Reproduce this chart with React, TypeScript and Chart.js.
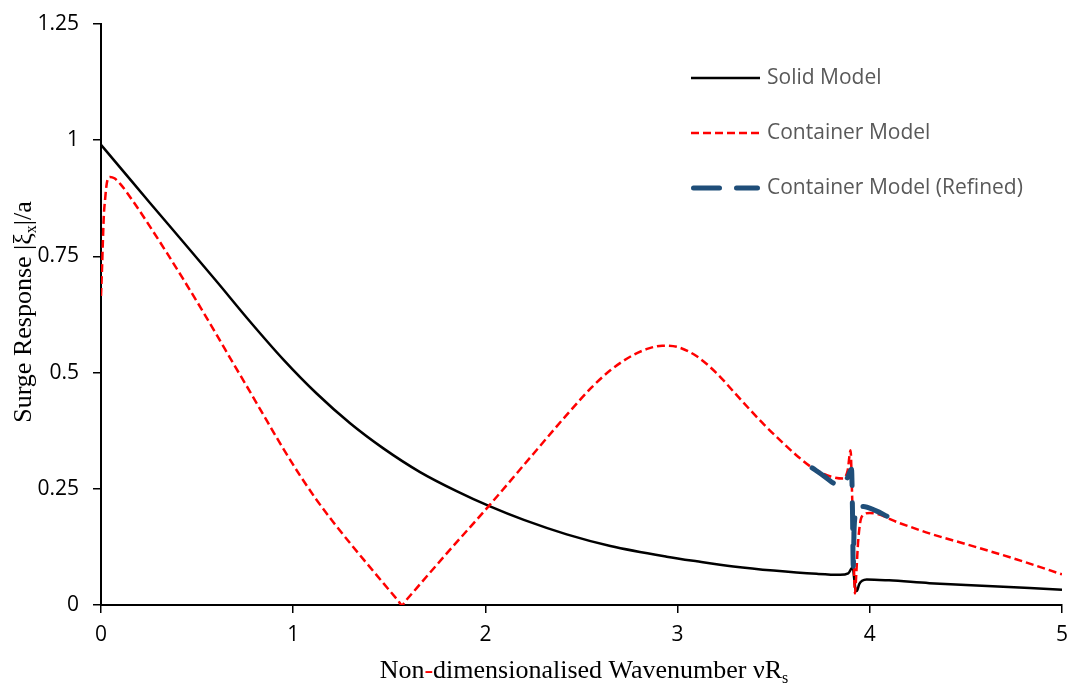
import React, { useEffect, useRef } from "react";
import { Chart, registerables } from "chart.js";

Chart.register(...registerables);

// Axis ticks
const xTicks = [0, 1, 2, 3, 4, 5];
const yTicks = [0, 0.25, 0.5, 0.75, 1, 1.25];

// Solid Model
const solidX = [0, 0.1, 0.255, 0.428, 0.602, 0.775, 0.949, 1.122, 1.296, 1.469, 1.66, 1.85, 2.024, 2.2, 2.423, 2.65, 2.943, 3.1, 3.29, 3.5, 3.724, 3.845, 3.888, 3.905, 3.912, 3.918, 3.925, 3.932, 3.945, 3.96, 3.984, 4.1, 4.31, 4.5, 4.75, 5.0];
const solidY = [0.99, 0.941, 0.865, 0.781, 0.696, 0.61, 0.528, 0.455, 0.391, 0.337, 0.286, 0.245, 0.212, 0.183, 0.152, 0.127, 0.104, 0.094, 0.083, 0.074, 0.067, 0.065, 0.068, 0.079, 0.08, 0.06, 0.035, 0.03, 0.045, 0.052, 0.055, 0.053, 0.047, 0.043, 0.038, 0.033];

// Container Model
const containerX = [0, 0.005, 0.01, 0.015, 0.021, 0.03, 0.047, 0.07, 0.1, 0.168, 0.255, 0.342, 0.428, 0.515, 0.602, 0.688, 0.775, 0.862, 0.949, 1.035, 1.122, 1.209, 1.296, 1.382, 1.469, 1.545, 1.566, 1.585, 1.7, 1.816, 2.024, 2.249, 2.423, 2.55, 2.65, 2.77, 2.85, 2.92, 3.0, 3.1, 3.2, 3.3, 3.377, 3.45, 3.55, 3.63, 3.706, 3.8, 3.862, 3.885, 3.9, 3.907, 3.914, 3.923, 3.93, 3.94, 3.958, 4.0, 4.157, 4.31, 4.5, 4.75, 5.0];
const containerY = [0.665, 0.72, 0.785, 0.84, 0.871, 0.907, 0.921, 0.918, 0.906, 0.868, 0.814, 0.758, 0.701, 0.642, 0.581, 0.52, 0.459, 0.397, 0.336, 0.279, 0.226, 0.178, 0.133, 0.09, 0.047, 0.01, 0.0, 0.009, 0.064, 0.119, 0.216, 0.325, 0.409, 0.467, 0.505, 0.538, 0.552, 0.558, 0.555, 0.535, 0.5, 0.455, 0.42, 0.388, 0.348, 0.318, 0.294, 0.276, 0.272, 0.29, 0.333, 0.25, 0.14, 0.025, 0.07, 0.14, 0.19, 0.198, 0.176, 0.154, 0.131, 0.1, 0.066];

// Container Model (Refined)
const refinedX = [3.7, 3.76, 3.83, 3.86, 3.885, 3.9, 3.905, 3.91, 3.914, 3.918, 3.925, 3.932, 3.95, 3.966, 4.03, 4.095];
const refinedY = [0.295, 0.278, 0.26, 0.262, 0.275, 0.29, 0.292, 0.2, 0.083, 0.16, 0.195, 0.208, 0.212, 0.212, 0.203, 0.19];

const seriesLabels = ["Solid Model", "Container Model", "Container Model (Refined)"];

const toPoints = (xs: number[], ys: number[]) => xs.map((x, i) => ({ x, y: ys[i] }));

type Piece = { t: string; sub?: boolean; color?: string };

function drawPieces(ctx: CanvasRenderingContext2D, pieces: Piece[], cx: number, baseline: number, size: number) {
  const font = (s: number) => `${s}px "Liberation Serif", "Times New Roman", serif`;
  const subSize = Math.round(size * 0.62);
  let total = 0;
  const widths = pieces.map((p) => {
    ctx.font = font(p.sub ? subSize : size);
    const w = ctx.measureText(p.t).width;
    total += w;
    return w;
  });
  let x = cx - total / 2;
  ctx.textBaseline = "alphabetic";
  ctx.textAlign = "left";
  pieces.forEach((p, i) => {
    ctx.font = font(p.sub ? subSize : size);
    ctx.fillStyle = p.color || "#000";
    ctx.fillText(p.t, x, baseline + (p.sub ? size * 0.18 : 0));
    x += widths[i];
  });
}

const decorPlugin = {
  id: "decor",
  afterDraw(chart: any) {
    const ctx: CanvasRenderingContext2D = chart.ctx;
    ctx.save();

    // Legend inside the plot area
    const x0 = 691;
    const x1 = 760;
    const textX = 767;
    const top = 78;
    const row = 55;
    chart.data.datasets.forEach((ds: any, i: number) => {
      const y = top + i * row;
      const cap = ds.borderCapStyle === "round" ? ds.borderWidth / 2 : 0;
      ctx.beginPath();
      ctx.setLineDash(ds.borderDash || []);
      ctx.lineDashOffset = 0;
      ctx.lineCap = ds.borderCapStyle || "butt";
      ctx.lineWidth = ds.borderWidth;
      ctx.strokeStyle = ds.borderColor;
      ctx.moveTo(x0 + cap, y);
      ctx.lineTo(x1 - cap, y);
      ctx.stroke();
      ctx.setLineDash([]);
      ctx.fillStyle = "#595959";
      ctx.font = '21px "Open Sans"';
      ctx.textBaseline = "middle";
      ctx.textAlign = "left";
      ctx.fillText(ds.label, textX, y);
    });

    // X axis title
    drawPieces(
      ctx,
      [
        { t: "Non" },
        { t: "-", color: "#FF0000" },
        { t: "dimensionalised Wavenumber \u03BDR" },
        { t: "s", sub: true },
      ],
      584,
      678,
      26
    );

    // Y axis title
    ctx.translate(31, 312);
    ctx.rotate(-Math.PI / 2);
    drawPieces(ctx, [{ t: "Surge Response |\u03BE" }, { t: "x", sub: true }, { t: "|/a" }], 0, 0, 26);

    ctx.restore();
  },
};

export default function App() {
  const canvasRef = useRef<HTMLCanvasElement | null>(null);

  useEffect(() => {
    const canvas = canvasRef.current;
    if (!canvas) return;
    const chart = new Chart(canvas, {
      type: "line",
      data: {
        datasets: [
          {
            label: seriesLabels[0],
            data: toPoints(solidX, solidY),
            borderColor: "#000000",
            borderWidth: 2.5,
            pointRadius: 0,
            cubicInterpolationMode: "monotone",
            order: 2,
          },
          {
            label: seriesLabels[1],
            data: toPoints(containerX, containerY),
            borderColor: "#FF0000",
            borderWidth: 2.5,
            borderDash: [8, 4],
            pointRadius: 0,
            cubicInterpolationMode: "monotone",
            order: 1,
          },
          {
            label: seriesLabels[2],
            data: toPoints(refinedX, refinedY),
            borderColor: "#1F4E79",
            borderWidth: 5,
            borderDash: [26, 17],
            borderCapStyle: "round",
            pointRadius: 0,
            cubicInterpolationMode: "monotone",
            order: 0,
          },
        ] as any,
      },
      options: {
        animation: false,
        responsive: false,
        maintainAspectRatio: false,
        layout: { padding: { left: 0, right: 7, top: 24, bottom: 0 } },
        plugins: { legend: { display: false }, tooltip: { enabled: false } },
        scales: {
          x: {
            type: "linear",
            min: 0,
            max: 5,
            afterBuildTicks: (s: any) => {
              s.ticks = xTicks.map((v) => ({ value: v }));
            },
            afterFit: (s: any) => {
              s.height = 79;
              s.paddingLeft = 0;
              s.paddingRight = 0;
            },
            grid: { drawOnChartArea: false, drawTicks: true, tickLength: 8, color: "#000", lineWidth: 1.5 },
            border: { display: true, color: "#000", width: 2 },
            ticks: {
              padding: 9,
              color: "#000",
              font: { family: '"Open Sans"', size: 21 },
              maxRotation: 0,
              callback: (v: any) => String(Math.round(Number(v) * 100) / 100),
            },
          },
          y: {
            type: "linear",
            min: 0,
            max: 1.25,
            afterBuildTicks: (s: any) => {
              s.ticks = yTicks.map((v) => ({ value: v }));
            },
            afterFit: (s: any) => {
              s.width = 101;
              s.paddingTop = 0;
              s.paddingBottom = 0;
            },
            grid: { drawOnChartArea: false, drawTicks: true, tickLength: 8, color: "#000", lineWidth: 1.5 },
            border: { display: true, color: "#000", width: 2 },
            ticks: {
              padding: 14,
              color: "#000",
              font: { family: '"Open Sans"', size: 21 },
              callback: (v: any) => String(Math.round(Number(v) * 100) / 100),
            },
          },
        },
      } as any,
      plugins: [decorPlugin],
    });
    return () => chart.destroy();
  }, []);

  return (
    <div style={{ position: "fixed", left: 0, top: 0, width: 1069, height: 684, background: "#fff" }}>
      <canvas ref={canvasRef} width={1069} height={684} style={{ display: "block" }} />
    </div>
  );
}
